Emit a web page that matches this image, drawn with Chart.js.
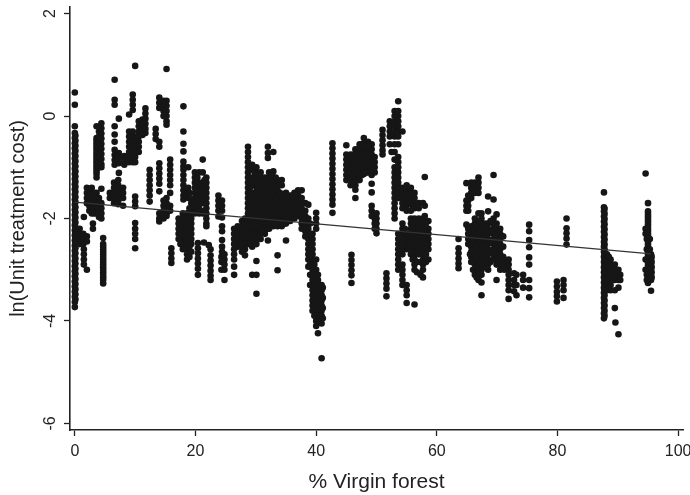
<!DOCTYPE html>
<html><head><meta charset="utf-8">
<style>html,body{margin:0;padding:0;background:#fff}canvas{display:block}</style>
<script src="https://cdn.jsdelivr.net/npm/chart.js@4"></script>
</head><body><canvas id="c" width="690" height="495"></canvas>
<script>
const xTickValues=[0,20,40,60,80,100];
const yTickValues=[-6,-4,-2,0,2];
const xTitle="% Virgin forest";
const yTitle="ln(Unit treatment cost)";
const fitX=[0,95.5];
const fitY=[-1.68,-2.69];
// each row: [% virgin forest, [ln cost readings]]
const forest0to5=[
[0,[.46,.22,-.2,-.33,-.43,-.53,-.63,-.73,-.83,-.93,-1.03,-1.13,-1.23,-1.33,-1.43,-1.53,-1.63,-1.73,-1.83,-1.93,-2.03,-2.13,-2.23,-2.33,-2.43,-2.53,-2.63,-2.73,-2.83,-2.93,-3.03,-3.13,-3.23,-3.33,-3.43,-3.53,-3.63,-3.73]],
[.1,[-.38,-.48,-.58,-.68,-.78,-.88,-.98,-1.08,-1.18,-1.28,-1.38,-1.48,-1.58,-1.68,-1.78,-1.88,-1.98,-2.08,-2.18,-2.28,-2.38,-2.48,-2.58,-2.68,-2.78,-2.88,-2.98,-3.08,-3.18,-3.28,-3.38,-3.48,-3.58]],
[.8,[-2.2,-2.3,-2.4,-2.5]],[1.4,[-2.3,-2.4,-2.5]],[1.5,[-1.97,-2.6,-2.7,-2.8,-2.9]],[2,[-1.4,-1.5,-1.6,-1.7,-2.35,-2.45,-3]],[2.4,[-1.45,-1.55,-1.65,-1.75,-1.85]],
[2.8,[-1.4,-1.5,-1.6,-1.7,-1.8,-1.9]],[3,[-2.1,-2.2]],[3.2,[-1.5,-1.6,-1.7,-1.8,-1.9]],
[3.6,[-.2,-.43,-.48,-.53,-.58,-.63,-.68,-.73,-.78,-.83,-.88,-.93,-.98,-1.03,-1.08,-1.13,-1.2,-1.5,-1.6,-1.7,-1.8,-1.9]],[4,[-.3,-.4,-.5,-.6,-.7,-.8,-.9,-1,-1.6,-1.7,-1.8,-1.9,-1.97]],
[4.4,[-.14,-.24,-.34,-.44,-.54,-.64,-.74,-.84,-.94,-1.0,-1.42,-1.7,-1.8,-1.9,-2.0]],
[4.7,[-2.38,-2.5,-2.55,-2.6,-2.65,-2.7,-2.75,-2.8,-2.85,-2.9,-2.95,-3,-3.05,-3.1,-3.15,-3.2,-3.27]]];
const forest5to10=[
[5.8,[-1.5,-1.6]],[6.5,[-1.3,-1.4,-1.5,-1.6,-1.7]],[7.2,[-1.25,-1.35,-1.45,-1.55,-1.65,-1.72]],[8,[-1.4,-1.5,-1.6,-1.75]],
[6.6,[.71,.32,.22,-.2,-.36,-.5,-.66,-.76,-.86,-.95]],[7.3,[-.05,-.72,-.82,-.92,-1.11]],[8.2,[-.78,-.88,-.95]],[9,[.03,-.3,-.4,-.5,-.6,-.7,-.8,-.9]],
[9.6,[.42,.32,.22,.12,-.3,-.4,-.5,-.6,-.7,-.8,-.9]],
[10,[.98,-.4,-.5,-.6,-.7,-.8,-.9,-1.57,-1.67,-1.76,-2.09,-2.2,-2.3,-2.4,-2.58]]];
const forest10to20=[
[10.6,[-.1,-.2,-.3,-.4,-.5,-.6,-.7]],[11.2,[-.07,-.17,-.27,-.37]],[11.7,[.15,.05,-.05,-.15,-.25,-.33]],
[12.4,[-1.05,-1.15,-1.25,-1.35,-1.45,-1.55,-1.67]],[13.4,[-.25,-.35,-.45]],
[14,[.36,.26,.16,-.5,-.6,-.92,-1.02,-1.12,-1.22,-1.32,-1.47,-1.9,-2,-2.06]],[14.7,[.3,.2,.1,0,-1.65,-1.75,-1.85,-1.95,-2]],
[15.2,[.92,.3,.2,.1,0,-.1,-.17,-1.6,-1.7,-1.8,-1.9,-1.95]],[15.8,[-.85,-.95,-1.05,-1.15,-1.25,-1.35,-1.5,-1.75,-1.85]],[16,[-2.58,-2.68,-2.78,-2.87]],
[18,[.19,-.3,-.54,-.69,-.89,-.98,-1.05,-1.15,-1.25,-1.35,-1.45,-1.55,-1.63]],[18.8,[-1,-1.4,-1.5,-1.6]],
[17.2,[-2,-2.1,-2.2,-2.3,-2.4]],[17.9,[-1.9,-2,-2.1,-2.2,-2.3,-2.4,-2.5,-2.6]],[18.6,[-1.9,-2,-2.1,-2.2,-2.3,-2.4,-2.5,-2.6,-2.7,-2.8]],[19.3,[-1.7,-1.8,-1.9,-2,-2.1,-2.2,-2.3,-2.4,-2.5,-2.65]]];
const forest20to28=[
[19.9,[-1.1,-1.2,-1.3,-1.4,-1.5,-1.6,-1.7,-1.8,-1.9]],[20.6,[-1.1,-1.3,-1.4,-1.5,-1.6,-1.7,-1.8,-1.9]],[21.2,[-.85,-1.1,-1.3,-1.4,-1.5,-1.6,-1.7,-1.9]],[21.8,[-1.2,-1.3,-1.4,-1.5,-1.6,-1.7,-1.8,-1.9,-2,-2.1,-2.15]],
[20.4,[-2.48,-2.58,-2.68,-2.78,-2.88,-2.98,-3.1]],[21.4,[-2.47]],[22.2,[-2.52]],[22.5,[-2.6,-2.72,-2.82,-2.92,-3.02,-3.12,-3.2]],
[23.8,[-1.55,-1.65,-1.75,-1.85,-1.96]],[24.4,[-1.65,-1.75,-1.85,-1.98,-2.15,-2.25,-2.42,-2.55,-2.65]],[24.3,[-2.75,-2.85,-3]],[24.8,[-2.7,-2.8,-2.9,-3,-3.2]],
[26.4,[-3.1,-2.2,-2.3,-2.4,-2.5,-2.6,-2.7,-2.8,-2.94]],[27,[-2.15,-2.25,-2.35,-2.45,-2.55]],[27.7,[-2.05,-2.15,-2.25,-2.35,-2.45,-2.55,-2.65]],[28.2,[-2,-2.1,-2.2,-2.3,-2.4,-2.5,-2.6,-2.72]]];
const forest28to33=[
[28.7,[-.6,-.7,-.8,-.9,-1,-1.1,-1.2,-1.3,-1.4,-1.5,-1.6,-1.7,-1.8,-1.9,-2,-2.1,-2.2,-2.3,-2.4,-2.5]],
[29.4,[-.95,-1.05,-1.25,-1.35,-1.5,-1.6,-1.7,-1.8,-1.9,-2,-2.1,-2.2,-2.3,-2.4,-2.55,-3.1]],
[30.1,[-1,-1.1,-1.25,-1.4,-1.5,-1.6,-1.7,-1.8,-1.9,-2,-2.1,-2.2,-2.3,-2.4,-2.5,-2.83,-3.1,-3.47]],
[30.8,[-1.1,-1.2,-1.3,-1.4,-1.5,-1.6,-1.7,-1.8,-1.9,-2,-2.1,-2.2,-2.3,-2.4]],
[31.5,[-1.2,-1.3,-1.4,-1.5,-1.6,-1.7,-1.8,-1.9,-2,-2.1,-2.2,-2.3]],
[32,[-.6,-.72,-.82,-2.43]],
[32.2,[-1.1,-1.2,-1.3,-1.4,-1.5,-1.6,-1.7,-1.8,-1.9,-2,-2.1,-2.2]],
[32.9,[-.7,-1.08,-1.2,-1.3,-1.4,-1.5,-1.6,-1.7,-1.8,-1.9,-2,-2.1,-2.15]]];
const forest33to40=[
[33.6,[-1.25,-1.35,-1.45,-1.55,-1.65,-1.75,-1.85,-1.95,-2.05,-2.15,-2.72,-3.01]],
[34.3,[-1.25,-1.35,-1.55,-1.65,-1.75,-1.85,-1.95,-2.05,-2.15]],
[35,[-1.5,-1.6,-1.7,-1.8,-1.9,-2,-2.1,-2.43]],[35.7,[-1.55,-1.65,-1.75,-1.85,-1.95,-2.05]],[36.4,[-1.5,-1.6,-1.7,-1.8,-1.9,-2]],[37,[-1.45,-1.55,-1.65,-1.75,-1.85,-1.95]],
[37.6,[-1.45,-1.6,-1.7,-1.8,-1.9,-2,-2.1,-2.2]],[38.2,[-1.7,-1.85,-1.95,-2.05,-2.15,-2.25,-2.35]],[38.7,[-1.73,-2,-2.1,-2.2,-2.3,-2.4,-2.5,-2.6,-2.7,-2.8,-2.94]],
[39.4,[-2.3,-2.4,-2.5,-2.6,-2.7,-2.8,-2.9,-3,-3.1,-3.2,-3.3,-3.4,-3.5,-3.6,-3.7,-3.8]],[40,[-1.89,-2,-2.1,-2.2,-2.8,-3,-3.1,-3.2,-3.3,-3.4,-3.5,-3.6,-3.7,-3.8,-3.9,-4,-4.1]],[40.3,[-3.1,-3.2,-3.3,-3.4,-3.5,-3.6,-3.7,-3.8,-3.9,-4,-4.24]],[40.9,[-3.3,-3.4,-3.5,-3.6,-3.7,-3.8,-3.9,-4.05,-4.73]],[41.1,[-3.35,-3.55,-3.75,-3.95]]];
const forest40to60=[
[42.7,[-.53,-.63,-.73,-.83,-.93,-1.03,-1.13,-1.23,-1.33,-1.43,-1.53,-1.63,-1.73,-1.89]],
[45,[-.57,-.75,-.85,-.95,-1.05,-1.15,-1.25]],[45.7,[-.75,-.85,-.95,-1.05,-1.15,-1.25,-1.35]],[45.85,[-2.71,-2.81,-2.91,-3.01,-3.11,-3.26]],[46.5,[-.65,-.75,-.85,-.95,-1.05,-1.15,-1.25,-1.35,-1.44,-1.6]],
[47.2,[-.55,-.65,-.75,-.85,-.95,-1.05,-1.15,-1.25]],[47.9,[-.43,-.53,-.63,-.73,-.83,-.93,-1.03,-1.13]],[48.6,[-.5,-.6,-.7,-.8,-.9,-1,-1.1]],[49.2,[-.55,-.65,-.75,-.85,-.95,-1.05,-1.15,-1.32,-1.49,-1.75,-1.85,-1.95]],[49.7,[-.8,-.9,-1,-1.1,-2,-2.1,-2.2]],[50,[-1.9,-2,-2.1,-2.2,-2.29]],
[51,[-.27,-.37,-.47,-.57,-.67,-.75]],[51.65,[-3.07,-3.17,-3.27,-3.37,-3.52]],[52.2,[-.1,-.2,-.3,-.4,-.55]],[52.5,[-.7]],[53,[.1,0,-.1,-.2,-.3,-.4,-.55,-.7,-.85,-1,-1.1,-1.2,-1.3,-1.4,-1.5,-1.6,-1.7,-1.8,-1.9,-2]],
[53.6,[.29,.1,0,-.1,-.2,-.3,-.4,-.55,-.8,-.9,-1,-1.1,-1.2,-1.3,-1.4,-1.5,-1.6,-2.3,-2.4,-2.5,-2.6,-2.7,-2.8,-2.9,-3]],
[54.3,[-.3,-1.4,-1.5,-1.6,-1.7,-1.8,-2.1,-2.2,-2.3,-2.4,-2.5,-2.6,-2.7,-2.9,-3,-3.1,-3.2,-3.3]],[55,[-1.35,-1.45,-1.55,-1.65,-1.75,-1.85,-2.3,-2.4,-2.5,-2.6,-3.3,-3.4,-3.5,-3.65]],
[55.7,[-1.4,-1.5,-1.6,-1.7,-1.85,-2,-2.1,-2.2,-2.3,-2.4,-2.5,-2.6,-2.7]],[56.3,[-1.5,-1.6,-1.7,-1.8,-2,-2.1,-2.2,-2.3,-2.4,-2.5,-2.6,-2.7,-2.8,-2.9,-3,-3.68]],[57,[-1.7,-1.8,-2,-2.1,-2.2,-2.3,-2.4,-2.5,-2.6,-2.7]],[57.7,[-1.7,-2,-2.1,-2.2,-2.3,-2.4,-2.5,-2.6,-2.7,-2.8,-2.9,-3,-3.15]],[58,[-1.19,-1.75,-1.95]],[58.6,[-2.05,-2.2,-2.3,-2.4,-2.5,-2.6,-2.8]]];
const forest60to75=[
[63.6,[-2.4,-2.58,-2.68,-2.78,-2.88,-2.97]],[64.9,[-1.31,-1.65,-1.75,-1.85,-2.12]],[65.2,[-1.55,-1.65,-1.75,-1.85,-2.2,-2.3,-2.4,-2.5]],[65.7,[-1.3,-1.4,-1.5,-1.6,-2.15,-2.25,-2.35,-2.45,-2.55,-2.65,-2.75,-2.85]],[66.3,[-1.3,-1.4,-1.5,-2,-2.1,-2.2,-2.3,-2.4,-2.5,-2.6,-2.7,-2.8,-2.9,-3,-3.1]],[66.9,[-1.2,-1.3,-1.4,-1.5,-1.9,-2.1,-2.2,-2.3,-2.4,-2.5,-2.6,-2.7,-2.8,-2.9,-3,-3.1,-3.2]],
[67.4,[-1.9,-2,-2.1,-2.2,-2.3,-2.4,-2.5,-2.6,-2.7,-2.8,-2.9,-3,-3.1,-3.25,-3.5]],[68,[-2.1,-2.2,-2.3,-2.4,-2.5,-2.6,-2.7,-2.8,-2.9]],[68.5,[-1.57,-1.86,-2.1,-2.2,-2.3,-2.4,-2.5,-2.6,-2.7,-2.8,-2.9,-3]],[69.4,[-1.15,-1.63,-2,-2.1,-2.2,-2.3,-2.4,-2.5,-2.6,-2.7,-2.8]],[69.9,[-1.92,-2.1,-2.2,-2.3,-2.4,-2.5,-2.6,-2.7,-2.8,-2.9,-3.2]],[70.5,[-2.2,-2.3,-2.4,-2.5,-2.6,-2.7,-2.8,-2.9,-3]],[71.2,[-2.8,-2.9,-3]],[71.9,[-2.8,-2.9,-3,-3.1,-3.2,-3.3,-3.4,-3.57]],[72.8,[-3.07,-3.2,-3.3,-3.42]],[73.2,[-3.1,-3.3,-3.5]],
[74.3,[-3.1,-3.2,-3.35]],[75.3,[-2.12,-2.25,-2.42,-2.56,-2.76,-2.9,-3.2,-3.36,-3.54]]];
const forest75to96=[
[79.9,[-3.23,-3.33,-3.43,-3.52,-3.62]],[81,[-3.2,-3.3,-3.4,-3.55]],[81.5,[-2,-2.19,-2.29,-2.39,-2.51]],
[87.7,[-1.49,-1.78,-1.86,-1.96,-2.06,-2.16,-2.26,-2.36,-2.46,-2.55,-2.65,-2.75,-2.85,-2.95,-3.05,-3.15,-3.25,-3.35,-3.45,-3.55,-3.65,-3.75,-3.85,-3.95]],
[87.8,[-1.81,-1.91,-2.01,-2.11,-2.21,-2.31,-2.41,-2.51,-2.6,-2.7,-2.8,-2.9,-3,-3.1,-3.2,-3.3,-3.4,-3.5,-3.6,-3.7,-3.8,-3.9]],
[88.2,[-2.7,-2.8,-2.9,-3,-3.1,-3.2,-3.3,-3.4]],[88.8,[-2.8,-2.9,-3,-3.1,-3.2,-3.3,-3.4]],[89.5,[-2.9,-3,-3.1,-3.2,-3.4,-3.75]],[89.6,[-4.03]],[90.1,[-3,-3.1,-3.2,-3.35,-4.26]],[90.4,[-3.1,-3.2]],
[94.6,[-1.12,-2.2,-2.3,-2.8,-3]],[95,[-1.7,-1.86,-1.91,-1.96,-2.01,-2.06,-2.11,-2.16,-2.21,-2.26,-2.31,-2.36,-2.41,-2.46,-2.51,-2.56,-2.61,-2.66,-2.71,-2.76,-2.81,-2.86,-2.91,-2.96,-3.01,-3.06,-3.11,-3.16,-3.21,-3.26]],[95.5,[-2.7,-2.8,-2.9,-3,-3.1,-3.2,-3.41]]];
// extra readings from the solid black patches
const forestDense=[
[17.5,[-2.05,-2.15,-2.25,-2.35,-2.5]],[19,[-1.5,-1.6,-1.8,-2,-2.2,-2.4,-2.55,-2.75]],[20.3,[-1.2,-1.45,-1.65,-1.85]],[21.5,[-1.25,-1.45,-1.65,-1.85]],
[29,[-1,-1.2,-1.4,-1.55,-1.75,-1.95,-2.15,-2.35,-2.5]],[29.8,[-1.15,-1.3,-1.55,-1.75,-1.95,-2.15,-2.35,-2.5]],[30.5,[-1.15,-1.35,-1.55,-1.75,-1.95,-2.15,-2.35]],[31.2,[-1.25,-1.45,-1.65,-1.85,-2.05,-2.25]],[31.9,[-1.25,-1.45,-1.65,-1.85,-2.05,-2.2]],[32.6,[-1.15,-1.35,-1.55,-1.75,-1.95,-2.1]],[33.3,[-1.2,-1.4,-1.6,-1.8,-2,-2.12]],[34,[-1.3,-1.5,-1.7,-1.9,-2.1]],[34.7,[-1.55,-1.75,-1.95,-2.1]],[35.4,[-1.6,-1.8,-2]],[36.1,[-1.55,-1.75,-1.95]],[36.7,[-1.5,-1.7,-1.9]],
[39,[-2.1,-2.3,-2.5,-2.7,-2.9,-3.1,-3.3]],[39.7,[-2.9,-3.1,-3.3,-3.5,-3.7,-3.9]],[40.6,[-3.3,-3.5,-3.7,-3.9]],
[46.2,[-.75,-.95,-1.15,-1.35]],[46.9,[-.65,-.85,-1.05,-1.25]],[47.6,[-.55,-.75,-.95,-1.15]],[48.3,[-.55,-.75,-.95,-1.1]],[49,[-.65,-.85,-1.05]],
[54.7,[-2.2,-2.4,-2.55]],[55.3,[-1.5,-1.7,-2.35,-2.55]],[56,[-1.55,-1.75,-2.05,-2.25,-2.45,-2.65,-2.8]],[56.7,[-2.05,-2.25,-2.45,-2.65,-2.85,-3.05]],[57.3,[-2.05,-2.25,-2.45,-2.65,-2.85,-3.1]],[58.2,[-2.1,-2.3,-2.5,-2.7,-2.85]],
[65.5,[-2.3,-2.5,-2.7]],[66,[-2.2,-2.4,-2.6,-2.8,-3]],[66.6,[-2.15,-2.35,-2.55,-2.75,-2.95,-3.15]],[67.1,[-2.05,-2.25,-2.45,-2.65,-2.85,-3.05]],[67.7,[-2.15,-2.35,-2.55,-2.75,-2.95]],[68.2,[-2.15,-2.35,-2.55,-2.75,-2.95]],[68.9,[-2.05,-2.25,-2.45,-2.65,-2.85]],[69.7,[-2.15,-2.35,-2.55,-2.75]],[71,[-2.35,-2.55,-2.75,-2.95]],
[88.5,[-2.75,-2.95,-3.15,-3.35]],[89.1,[-3,-3.2]],[94.8,[-2.2,-2.4,-2.6,-2.8,-3,-3.1,-3.2]],[95.3,[-2.4,-2.6,-2.75,-2.95,-3.15]],[95.6,[-2.75,-2.85,-2.95,-3.05,-3.15]]];

const allRows=[...forest0to5,...forest5to10,...forest10to20,...forest20to28,...forest28to33,...forest33to40,...forest40to60,...forest60to75,...forest75to96,...forestDense];
const scatterPoints=allRows.flatMap(([x,ys])=>ys.map(y=>({x,y})));
const ink='#161616';
const noSpill=s=>{s.paddingLeft=0;s.paddingRight=0;s.paddingTop=0;s.paddingBottom=0};
new Chart(document.getElementById('c'),{
 type:'scatter',
 data:{datasets:[
  {type:'line',data:fitX.map((x,i)=>({x,y:fitY[i]})),borderColor:'#333',borderWidth:1.3,pointRadius:0,fill:false},
  {data:scatterPoints,backgroundColor:ink,borderWidth:0,pointRadius:3.3,pointHoverRadius:3.3}
 ]},
 options:{responsive:false,animation:false,devicePixelRatio:1,
  layout:{padding:{top:7,right:7,left:0,bottom:0}},
  plugins:{legend:{display:false},tooltip:{enabled:false}},
  scales:{
   x:{type:'linear',min:-0.8,max:100.8,
    afterBuildTicks:s=>{s.ticks=xTickValues.map(value=>({value}))},
    afterFit:s=>{s.height=65;noSpill(s)},
    grid:{drawOnChartArea:false,color:'#222',tickLength:6,tickWidth:1.3},
    border:{color:'#222',width:1.6},
    ticks:{color:'#222',font:{family:'Liberation Sans',size:16},padding:6,maxRotation:0,autoSkip:false},
    title:{display:true,text:xTitle,color:'#222',font:{family:'Liberation Sans',size:21},padding:{top:5,bottom:0}}},
   y:{type:'linear',min:-6.13,max:2.13,
    afterBuildTicks:s=>{s.ticks=yTickValues.map(value=>({value}))},
    afterFit:s=>{s.width=70;noSpill(s)},
    grid:{drawOnChartArea:false,color:'#222',tickLength:6,tickWidth:1.3},
    border:{color:'#222',width:1.6},
    ticks:{color:'#222',font:{family:'Liberation Sans',size:16},padding:6,minRotation:90,maxRotation:90,autoSkip:false,crossAlign:'center'},
    title:{display:true,text:yTitle,color:'#222',font:{family:'Liberation Sans',size:20},padding:{top:6,bottom:0}}}
  }}
});
</script></body></html>
